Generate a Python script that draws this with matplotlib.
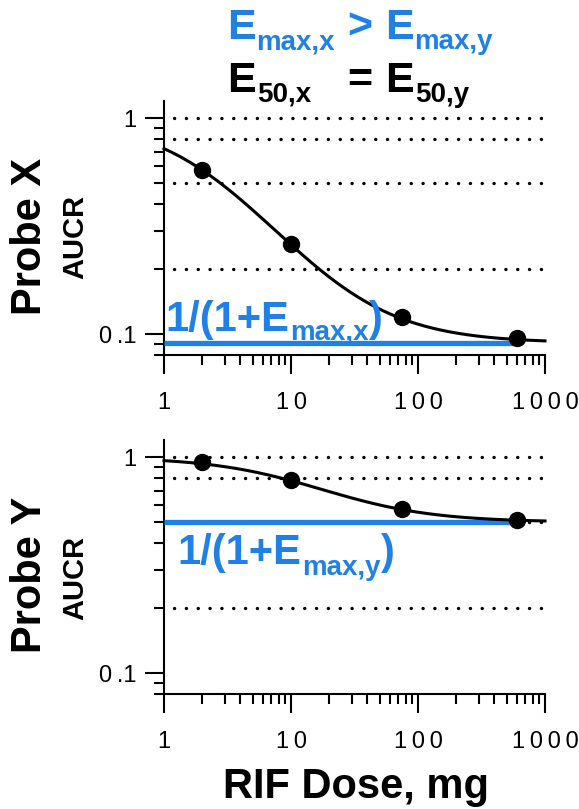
import numpy as np
import matplotlib
matplotlib.use("Agg")
import matplotlib.pyplot as plt

W, H = 579, 809
BLUE = "#1f80e6"
FONT = "Liberation Sans"

# Emax model parameters for the two probes
emax_x = 10.0
emax_y = 1.0
e50 = 25.0

# observed doses (mg) and AUC ratios
doses = [2, 10, 75, 600]
aucr_x = [0.577, 0.262, 0.120, 0.096]
aucr_y = [0.945, 0.780, 0.575, 0.512]

ref_levels = [1.0, 0.8, 0.5, 0.2]
xticks = [1, 10, 100, 1000]
xtick_labels = ["1", "1\u20090", "1\u20090\u20090", "1\u20090\u20090\u20090"]
yticks = [0.1, 1]
ytick_labels = ["0\u2009.1", "1"]

plt.rcParams["font.family"] = [FONT, "DejaVu Sans"]


def px(x, y):
    return x / W, 1 - y / H


def chain(fig, x, y, parts, color):
    # draw text pieces one after another, each with its own size and baseline shift
    r = fig.canvas.get_renderer()
    for s, size, dy in parts:
        t = fig.text(*px(x, y + dy), s, fontsize=size, fontweight="bold",
                     color=color, ha="left", va="baseline", zorder=10)
        x += t.get_window_extent(r).width + 1


def model(d, emax):
    d = np.asarray(d, dtype=float)
    return 1.0 / (1.0 + emax * d / (d + e50))


fig = plt.figure(figsize=(W / 100, H / 100), dpi=100)
ax_top = fig.add_axes([164 / W, 1 - 355 / H, 381 / W, 254 / H])
ax_bot = fig.add_axes([164 / W, 1 - 694 / H, 381 / W, 254 / H])

dgrid = np.logspace(0, 3, 300)
for ax, emax, pts in [(ax_top, emax_x, aucr_x), (ax_bot, emax_y, aucr_y)]:
    ax.set_xscale("log")
    ax.set_yscale("log")
    ax.set_xlim(1, 1000)
    ax.set_ylim(0.08, 1.2)
    ax.hlines(ref_levels, 1.2, 1000, colors="black", linewidth=2.4,
              linestyles=(0, (0.05, 3.5)), capstyle="round")
    ax.hlines(1 / (1 + emax), 1, doses[-1], colors=BLUE, linewidth=3.8, zorder=3)
    ax.plot(dgrid, model(dgrid, emax), color="black", linewidth=2.2,
            zorder=4, clip_on=False)
    ax.plot(doses, pts, "o", color="black", markersize=11.5, zorder=5,
            clip_on=False)

    for side in ["top", "right"]:
        ax.spines[side].set_visible(False)
    for side in ["left", "bottom"]:
        ax.spines[side].set_linewidth(1.5)

    ax.set_xticks(xticks, xtick_labels)
    ax.set_xticks([m * d for d in [1, 10, 100] for m in range(2, 10)], minor=True)
    ax.set_yticks(yticks, ytick_labels)
    ax.set_yticks([0.08, 0.09] + [m / 10 for m in range(2, 10)], minor=True)
    ax.tick_params(which="major", length=14, width=1.5, labelsize=17)
    ax.tick_params(which="minor", length=7, width=1.5, labelleft=False,
                   labelbottom=False)
    ax.tick_params(axis="x", which="major", pad=13)
    ax.tick_params(axis="y", which="major", pad=6)

# axis titles
fig.text(*px(30, 236), "Probe X", rotation=90, ha="center", va="center",
         fontsize=30, fontweight="bold")
fig.text(*px(75, 237), "AUCR", rotation=90, ha="center", va="center",
         fontsize=21, fontweight="bold")
fig.text(*px(30, 575), "Probe Y", rotation=90, ha="center", va="center",
         fontsize=30, fontweight="bold")
fig.text(*px(75, 578), "AUCR", rotation=90, ha="center", va="center",
         fontsize=21, fontweight="bold")
fig.text(*px(356, 798), "RIF Dose, mg", ha="center", va="baseline",
         fontsize=30, fontweight="bold")

# heading comparing the two probes
chain(fig, 227, 39, [("E", 31, 0), ("max,x", 20, 10)], BLUE)
chain(fig, 347, 39, [(">", 31, 0)], BLUE)
chain(fig, 385, 39, [("E", 31, 0), ("max,y", 20, 10)], BLUE)
chain(fig, 227, 92, [("E", 31, 0), ("50,x", 20, 10)], "black")
chain(fig, 347, 92, [("=", 31, 0)], "black")
chain(fig, 385, 92, [("E", 31, 0), ("50,y", 20, 10)], "black")

# floor labels for the maximal effect
chain(fig, 165, 331, [("1/(1+E", 30, 0), ("max,x", 20, 9), (")", 30, 0)], BLUE)
chain(fig, 177, 564, [("1/(1+E", 30, 0), ("max,y", 20, 11), (")", 30, 0)], BLUE)

fig.savefig("out.png", dpi=100)
